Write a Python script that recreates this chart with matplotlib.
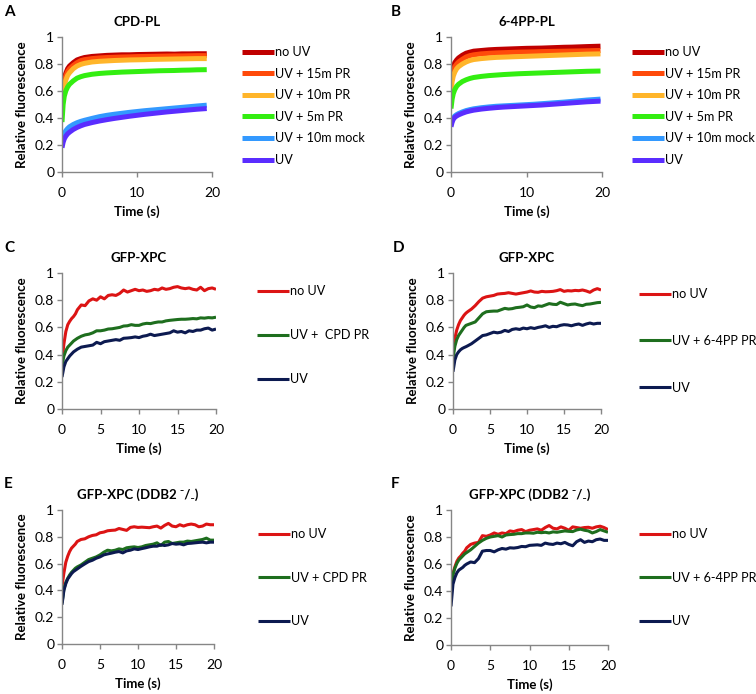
#! /usr/bin/env python

import matplotlib
matplotlib.use('Agg')
import matplotlib.pyplot as plt


# fonts
plt.rcParams['font.family'] = ['Lato', 'DejaVu Sans']

# ---------------------------------------------------------------- data
# panels A and B: photolyase curves
T_AB = [0, 0.15, 0.3, 0.5, 0.75, 1, 1.5, 2, 2.5, 3, 4, 5, 6, 7, 8, 9,
        10, 11, 12, 13, 14, 15, 16, 17, 18, 19.3]
T_B = [0, 0.15, 0.3, 0.5, 0.75, 1, 1.5, 2, 2.5, 3, 4, 5, 6, 7, 8, 9,
       10, 11, 12, 13, 14, 15, 16, 17, 18, 19.8]
LABELS_AB = ['no UV', 'UV + 15m PR', 'UV + 10m PR', 'UV + 5m PR',
             'UV + 10m mock', 'UV']
COLORS_AB = ['#C00000', '#FF4A0A', '#FFB52A', '#33EE11', '#3399FF',
             '#5A2DFF']

A_NO_UV = [0.55, 0.64, 0.69, 0.73, 0.765, 0.785, 0.81, 0.83, 0.84, 0.848,
           0.856, 0.86, 0.864, 0.866, 0.868, 0.868, 0.87, 0.871, 0.872,
           0.873, 0.874, 0.873, 0.875, 0.875, 0.876, 0.876]
A_PR15 = [0.54, 0.62, 0.67, 0.71, 0.745, 0.765, 0.79, 0.81, 0.825, 0.832,
          0.84, 0.845, 0.848, 0.85, 0.852, 0.853, 0.855, 0.856, 0.857,
          0.858, 0.859, 0.86, 0.86, 0.861, 0.862, 0.862]
A_PR10 = [0.5, 0.59, 0.64, 0.68, 0.715, 0.735, 0.765, 0.785, 0.797, 0.805,
          0.815, 0.82, 0.823, 0.826, 0.828, 0.83, 0.831, 0.832, 0.834,
          0.835, 0.836, 0.837, 0.838, 0.839, 0.84, 0.84]
A_PR5 = [0.37, 0.5, 0.56, 0.6, 0.63, 0.65, 0.675, 0.695, 0.706, 0.714,
         0.724, 0.73, 0.734, 0.737, 0.74, 0.742, 0.744, 0.746, 0.748,
         0.75, 0.751, 0.752, 0.754, 0.755, 0.757, 0.758]
A_MOCK = [0.22, 0.26, 0.285, 0.305, 0.322, 0.335, 0.352, 0.365, 0.375,
          0.383, 0.397, 0.41, 0.42, 0.428, 0.435, 0.442, 0.448, 0.454,
          0.459, 0.464, 0.469, 0.474, 0.479, 0.484, 0.489, 0.495]
A_UV = [0.18, 0.22, 0.245, 0.265, 0.283, 0.295, 0.315, 0.33, 0.342, 0.352,
        0.366, 0.378, 0.388, 0.397, 0.405, 0.413, 0.42, 0.427, 0.433,
        0.439, 0.445, 0.45, 0.455, 0.46, 0.465, 0.47]

B_NO_UV = [0.68, 0.74, 0.78, 0.81, 0.83, 0.845, 0.865, 0.88, 0.888, 0.895,
           0.9, 0.905, 0.908, 0.91, 0.912, 0.914, 0.916, 0.917, 0.918,
           0.92, 0.922, 0.924, 0.925, 0.927, 0.929, 0.932]
B_PR15 = [0.64, 0.71, 0.75, 0.78, 0.8, 0.815, 0.835, 0.852, 0.862, 0.868,
          0.875, 0.879, 0.882, 0.884, 0.886, 0.888, 0.889, 0.89, 0.892,
          0.893, 0.894, 0.895, 0.896, 0.897, 0.898, 0.9]
B_PR10 = [0.6, 0.67, 0.71, 0.74, 0.765, 0.78, 0.8, 0.815, 0.826, 0.833,
          0.84, 0.845, 0.849, 0.851, 0.853, 0.855, 0.857, 0.859, 0.861,
          0.863, 0.865, 0.867, 0.869, 0.871, 0.873, 0.875]
B_PR5 = [0.47, 0.54, 0.58, 0.61, 0.635, 0.65, 0.67, 0.683, 0.693, 0.7,
         0.708, 0.714, 0.718, 0.722, 0.725, 0.728, 0.73, 0.732, 0.734,
         0.736, 0.738, 0.74, 0.742, 0.744, 0.746, 0.748]
B_MOCK = [0.35, 0.38, 0.4, 0.415, 0.425, 0.433, 0.445, 0.455, 0.462, 0.468,
          0.476, 0.482, 0.487, 0.49, 0.493, 0.496, 0.499, 0.502, 0.506,
          0.51, 0.514, 0.518, 0.523, 0.528, 0.533, 0.54]
B_UV = [0.335, 0.37, 0.39, 0.405, 0.415, 0.423, 0.435, 0.445, 0.452, 0.458,
        0.466, 0.472, 0.477, 0.481, 0.484, 0.487, 0.49, 0.493, 0.496, 0.5,
        0.504, 0.508, 0.512, 0.516, 0.52, 0.525]

# panels C to F: GFP-XPC curves
T_XPC = [0, 0.25, 0.5, 0.75, 1, 1.25, 1.5, 1.75, 2, 2.5, 3, 3.5, 4, 4.5,
         5, 5.5, 6, 6.5, 7, 7.5, 8, 8.5, 9, 9.5, 10, 10.5, 11, 11.5, 12,
         12.5, 13, 13.5, 14, 14.5, 15, 15.5, 16, 16.5, 17, 17.5, 18, 18.5,
         19, 19.5, 20]
COLORS_XPC = ['#DC1414', '#1E6E1E', '#0C1A50']

C_NO_UV = [0.35, 0.48, 0.57, 0.62, 0.645, 0.665, 0.68, 0.7, 0.73, 0.765,
           0.76, 0.795, 0.81, 0.8, 0.825, 0.81, 0.835, 0.84, 0.835, 0.85,
           0.875, 0.86, 0.87, 0.88, 0.87, 0.875, 0.865, 0.87, 0.88, 0.875,
           0.89, 0.88, 0.885, 0.895, 0.9, 0.89, 0.885, 0.89, 0.88, 0.875,
           0.895, 0.87, 0.885, 0.89, 0.88]
C_CPD_PR = [0.32, 0.39, 0.43, 0.455, 0.47, 0.485, 0.5, 0.51, 0.52, 0.535,
            0.545, 0.55, 0.56, 0.575, 0.575, 0.58, 0.588, 0.59, 0.595, 0.6,
            0.61, 0.612, 0.62, 0.615, 0.615, 0.625, 0.63, 0.628, 0.635,
            0.64, 0.64, 0.648, 0.652, 0.655, 0.658, 0.66, 0.66, 0.662,
            0.665, 0.663, 0.67, 0.668, 0.672, 0.67, 0.675]
C_UV = [0.235, 0.31, 0.35, 0.37, 0.39, 0.405, 0.42, 0.43, 0.44, 0.455,
        0.46, 0.465, 0.47, 0.49, 0.48, 0.495, 0.5, 0.505, 0.51, 0.505,
        0.52, 0.522, 0.525, 0.53, 0.525, 0.535, 0.54, 0.55, 0.54, 0.545,
        0.55, 0.555, 0.56, 0.575, 0.565, 0.57, 0.56, 0.575, 0.57, 0.58,
        0.58, 0.59, 0.595, 0.58, 0.588]

D_NO_UV = [0.4, 0.52, 0.58, 0.62, 0.65, 0.67, 0.69, 0.705, 0.716, 0.735,
           0.76, 0.79, 0.815, 0.825, 0.83, 0.835, 0.845, 0.848, 0.85,
           0.855, 0.85, 0.845, 0.85, 0.855, 0.86, 0.868, 0.86, 0.858,
           0.865, 0.862, 0.863, 0.865, 0.87, 0.878, 0.865, 0.87, 0.868,
           0.872, 0.87, 0.875, 0.868, 0.858, 0.875, 0.885, 0.875]
D_64_PR = [0.37, 0.46, 0.51, 0.54, 0.56, 0.58, 0.6, 0.615, 0.62, 0.63,
           0.64, 0.67, 0.7, 0.715, 0.718, 0.72, 0.72, 0.73, 0.74, 0.735,
           0.738, 0.745, 0.748, 0.752, 0.765, 0.75, 0.745, 0.758, 0.755,
           0.765, 0.775, 0.77, 0.768, 0.785, 0.775, 0.765, 0.77, 0.772,
           0.765, 0.76, 0.77, 0.772, 0.777, 0.782, 0.784]
D_UV = [0.274, 0.36, 0.4, 0.42, 0.435, 0.445, 0.452, 0.458, 0.465, 0.48,
        0.5, 0.52, 0.54, 0.545, 0.555, 0.565, 0.56, 0.565, 0.578, 0.57,
        0.585, 0.59, 0.585, 0.595, 0.59, 0.598, 0.592, 0.6, 0.605, 0.612,
        0.6, 0.608, 0.605, 0.615, 0.62, 0.618, 0.612, 0.62, 0.625, 0.615,
        0.625, 0.632, 0.625, 0.63, 0.63]

E_NO_UV = [0.43, 0.53, 0.61, 0.655, 0.69, 0.715, 0.73, 0.745, 0.765, 0.78,
           0.785, 0.8, 0.81, 0.815, 0.83, 0.835, 0.845, 0.848, 0.85, 0.862,
           0.855, 0.848, 0.87, 0.875, 0.87, 0.872, 0.87, 0.868, 0.875,
           0.88, 0.865, 0.885, 0.9, 0.88, 0.875, 0.89, 0.88, 0.89, 0.895,
           0.89, 0.875, 0.88, 0.895, 0.89, 0.89]
E_CPD_PR = [0.305, 0.41, 0.46, 0.49, 0.515, 0.535, 0.55, 0.565, 0.575,
            0.59, 0.61, 0.63, 0.64, 0.65, 0.665, 0.685, 0.7, 0.695, 0.7,
            0.71, 0.705, 0.718, 0.722, 0.725, 0.72, 0.725, 0.735, 0.74,
            0.745, 0.755, 0.735, 0.76, 0.765, 0.75, 0.755, 0.76, 0.76,
            0.768, 0.765, 0.77, 0.775, 0.78, 0.79, 0.775, 0.775]
E_UV = [0.293, 0.4, 0.45, 0.485, 0.505, 0.525, 0.54, 0.55, 0.56, 0.58,
        0.598, 0.615, 0.625, 0.64, 0.65, 0.665, 0.672, 0.678, 0.685, 0.69,
        0.68, 0.695, 0.7, 0.71, 0.705, 0.712, 0.718, 0.725, 0.73, 0.73,
        0.74, 0.735, 0.74, 0.75, 0.745, 0.748, 0.74, 0.75, 0.752, 0.755,
        0.758, 0.76, 0.755, 0.76, 0.76]

F_NO_UV = [0.41, 0.53, 0.58, 0.62, 0.645, 0.66, 0.68, 0.695, 0.72, 0.745,
           0.755, 0.76, 0.81, 0.805, 0.815, 0.83, 0.82, 0.83, 0.825, 0.845,
           0.84, 0.85, 0.855, 0.84, 0.85, 0.855, 0.86, 0.85, 0.87, 0.885,
           0.865, 0.86, 0.875, 0.865, 0.85, 0.875, 0.87, 0.865, 0.87,
           0.872, 0.865, 0.875, 0.88, 0.87, 0.855]
F_64_PR = [0.385, 0.52, 0.57, 0.605, 0.63, 0.645, 0.66, 0.675, 0.685,
           0.705, 0.73, 0.755, 0.775, 0.79, 0.8, 0.805, 0.81, 0.8, 0.815,
           0.818, 0.82, 0.825, 0.825, 0.83, 0.83, 0.828, 0.835, 0.832,
           0.835, 0.83, 0.838, 0.835, 0.84, 0.845, 0.842, 0.84, 0.852,
           0.858, 0.85, 0.845, 0.83, 0.84, 0.855, 0.845, 0.835]
F_UV = [0.286, 0.45, 0.5, 0.535, 0.555, 0.565, 0.575, 0.59, 0.6, 0.615,
        0.61, 0.64, 0.695, 0.7, 0.7, 0.69, 0.705, 0.715, 0.71, 0.72, 0.718,
        0.722, 0.73, 0.728, 0.738, 0.74, 0.742, 0.738, 0.755, 0.748, 0.745,
        0.755, 0.75, 0.76, 0.745, 0.735, 0.765, 0.78, 0.76, 0.77, 0.765,
        0.78, 0.785, 0.775, 0.775]

SUPER = 'GFP-XPC (DDB2 \u207b/\u208b)'

# ---------------------------------------------------------------- layout
W, H = 756, 694
SPINE = '#868686'


def px_rect(left, right, top, bottom):
    """
    px_rect:
    Args: pixel edges of an axes
    Returns: rect in figure fractions
    """
    return [left / W, 1 - bottom / H, (right - left) / W, (bottom - top) / H]


def draw_panel(fig, p):
    """
    draw_panel:
    Args: fig, p [dict]
    Returns: -
    Draws one panel with its curves, title and legend.
    """
    ax = fig.add_axes(px_rect(*p['box']))
    for y, lab, col in zip(p['series'], p['labels'], p['colors']):
        ax.plot(p['t'], y, color=col, lw=p['lw'], label=lab,
                solid_capstyle='butt', solid_joinstyle='round')
    ax.set_xlim(0, 20)
    ax.set_ylim(0, 1)
    ax.set_xticks(p['xticks'])
    ax.set_yticks([0, 0.2, 0.4, 0.6, 0.8, 1])
    ax.set_yticklabels(['0', '0.2', '0.4', '0.6', '0.8', '1'])
    for side in ['top', 'right']:
        ax.spines[side].set_visible(False)
    for side in ['left', 'bottom']:
        ax.spines[side].set_color(SPINE)
        ax.spines[side].set_linewidth(1.0)
    ax.tick_params(direction='out', length=3.5, width=1.0, color=SPINE,
                   labelsize=10, labelcolor='black')
    ax.tick_params(axis='x', pad=7)
    ax.tick_params(axis='y', pad=2)
    ax.set_ylabel('Relative fluorescence', fontsize=9.5,
                  fontweight='bold', labelpad=5)
    ax.set_xlabel('Time (s)', fontsize=9.5, fontweight='bold', labelpad=4.5)
    ax.set_title(p['title'], fontsize=9.5, fontweight='bold', pad=8)
    ax.text(p['letter_xy'][0] / W, 1 - p['letter_xy'][1] / H, p['letter'],
            transform=fig.transFigure, fontsize=11, fontweight='bold',
            ha='left', va='center')
    lx, ly = p['legend_xy']
    ax.legend(loc='upper left', bbox_to_anchor=(lx / W, 1 - ly / H),
              bbox_transform=fig.transFigure, frameon=False, fontsize=9.1,
              handlelength=2.5, handletextpad=0.15, borderpad=0,
              borderaxespad=0, labelspacing=p['spacing'])


def main():
    """
    main:
    Args: -
    Returns: -
    Builds the six panel figure and saves it.
    """
    fig = plt.figure(figsize=(W / 100, H / 100), dpi=100)
    fig.patch.set_facecolor('white')

    xpc_labels_cpd = ['no UV', 'UV +  CPD PR', 'UV']
    xpc_labels_64 = ['no UV', 'UV + 6-4PP PR', 'UV']
    panels = [
        dict(box=(62, 212, 37, 172), t=T_AB, lw=3.6, letter='A',
             series=[A_NO_UV, A_PR15, A_PR10, A_PR5, A_MOCK, A_UV],
             labels=LABELS_AB, colors=COLORS_AB, title='CPD-PL',
             xticks=[0, 10, 20], letter_xy=(4, 12),
             legend_xy=(242, 46), spacing=0.76),
        dict(box=(451, 602, 37, 172), t=T_B, lw=3.6, letter='B',
             series=[B_NO_UV, B_PR15, B_PR10, B_PR5, B_MOCK, B_UV],
             labels=LABELS_AB, colors=COLORS_AB, title='6-4PP-PL',
             xticks=[0, 10, 20], letter_xy=(391, 12),
             legend_xy=(632, 46), spacing=0.76),
        dict(box=(62, 216, 273, 409), t=T_XPC, lw=2.2, letter='C',
             series=[C_NO_UV, C_CPD_PR, C_UV],
             labels=xpc_labels_cpd, colors=COLORS_XPC, title='GFP-XPC',
             xticks=[0, 5, 10, 15, 20], letter_xy=(4, 248),
             legend_xy=(257, 285), spacing=2.53),
        dict(box=(453, 601, 273, 409), t=T_XPC, lw=2.2, letter='D',
             series=[D_NO_UV, D_64_PR, D_UV],
             labels=xpc_labels_64, colors=COLORS_XPC, title='GFP-XPC',
             xticks=[0, 5, 10, 15, 20], letter_xy=(393, 248),
             legend_xy=(639, 288), spacing=2.75),
        dict(box=(62, 214, 510, 644), t=T_XPC, lw=2.2, letter='E',
             series=[E_NO_UV, E_CPD_PR, E_UV],
             labels=['no UV', 'UV + CPD PR', 'UV'], colors=COLORS_XPC,
             title=SUPER, xticks=[0, 5, 10, 15, 20], letter_xy=(4, 484),
             legend_xy=(258, 528), spacing=2.5),
        dict(box=(451, 608, 510, 645), t=T_XPC, lw=2.2, letter='F',
             series=[F_NO_UV, F_64_PR, F_UV],
             labels=xpc_labels_64, colors=COLORS_XPC, title=SUPER,
             xticks=[0, 5, 10, 15, 20], letter_xy=(391, 484),
             legend_xy=(639, 528), spacing=2.5),
    ]
    for p in panels:
        draw_panel(fig, p)

    fig.savefig('out.png', dpi=100, facecolor='white')


if __name__ == "__main__":
    main()
